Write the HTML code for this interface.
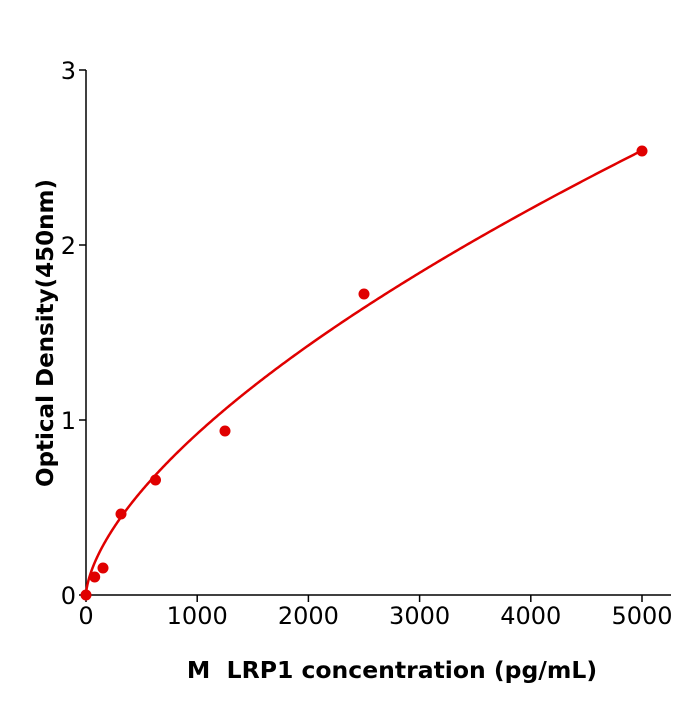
<!DOCTYPE html>
<html><head><style>body{margin:0;background:#fff}</style></head><body>
<svg width="700" height="700" xmlns="http://www.w3.org/2000/svg" font-family="'DejaVu Sans','Liberation Sans',sans-serif">
<g stroke="#000" stroke-width="1.5" fill="none">
<line x1="86" y1="70" x2="86" y2="595"/>
<line x1="86" y1="595" x2="671" y2="595"/>
<line x1="79" y1="70" x2="86" y2="70"/><line x1="79" y1="245" x2="86" y2="245"/><line x1="79" y1="420" x2="86" y2="420"/><line x1="79" y1="595" x2="86" y2="595"/>
<line x1="86" y1="595" x2="86" y2="602"/><line x1="197.2" y1="595" x2="197.2" y2="602"/><line x1="308.4" y1="595" x2="308.4" y2="602"/><line x1="419.6" y1="595" x2="419.6" y2="602"/><line x1="530.8" y1="595" x2="530.8" y2="602"/><line x1="642" y1="595" x2="642" y2="602"/>
</g>
<g font-size="24" fill="#000" text-anchor="end">
<text x="76" y="79">3</text><text x="76" y="254">2</text><text x="76" y="429">1</text><text x="76" y="604">0</text>
</g>
<g font-size="24" fill="#000" text-anchor="middle">
<text x="86" y="624">0</text><text x="197.2" y="624">1000</text><text x="308.4" y="624">2000</text><text x="419.6" y="624">3000</text><text x="530.8" y="624">4000</text><text x="642" y="624">5000</text>
</g>
<text x="392" y="678" font-size="23.5" font-weight="bold" text-anchor="middle">M&#160; LRP1 concentration (pg/mL)</text>
<text transform="translate(53,333) rotate(-90)" font-size="23" font-weight="bold" text-anchor="middle">Optical Density(450nm)</text>
<path id="c" fill="none" stroke="#e00000" stroke-width="2.5"/>
<g fill="#e00000">
<circle cx="86" cy="595" r="5.5"/><circle cx="94.7" cy="577" r="5.5"/><circle cx="103" cy="568" r="5.5"/><circle cx="121" cy="514" r="5.5"/><circle cx="155.5" cy="480" r="5.5"/><circle cx="225" cy="431" r="5.5"/><circle cx="364" cy="294" r="5.5"/><circle cx="642" cy="151" r="5.5"/>
</g>
<script>
var d="",b=0.63,a=2.54/Math.pow(5000,b);
for(var i=0;i<=400;i++){var x=5000*Math.pow(i/400,2);var y=a*Math.pow(x,b);d+=(i?"L":"M")+(86+x*0.1112).toFixed(2)+","+(595-y*175).toFixed(2);}
document.getElementById("c").setAttribute("d",d);
</script>
</svg>
</body></html>
